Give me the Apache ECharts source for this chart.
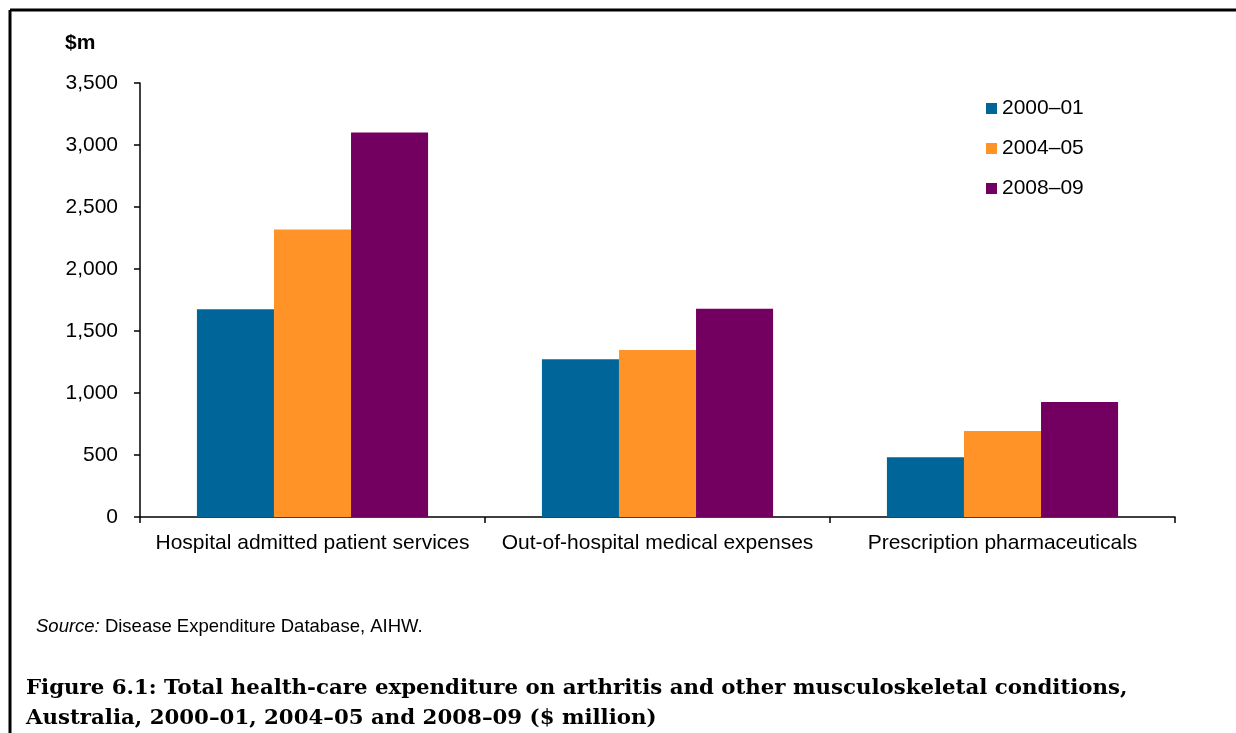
<!DOCTYPE html>
<html>
<head>
<meta charset="utf-8">
<script src="https://cdn.jsdelivr.net/npm/echarts@6/dist/echarts.min.js"></script>
<style>
html,body{margin:0;padding:0;background:#fff;}
#c{width:1236px;height:733px;}
</style>
</head>
<body>
<div id="c"></div>
<script>
const categories = ['Hospital admitted patient services', 'Out-of-hospital medical expenses', 'Prescription pharmaceuticals'];
const seriesNames = ['2000\u201301', '2004\u201305', '2008\u201309'];
const values2000 = [1675, 1272, 481];
const values2004 = [2318, 1347, 693];
const values2008 = [3100, 1680, 927];
const colors = ['#006699', '#FF9327', '#730060'];

const chart = echarts.init(document.getElementById('c'), null, {renderer: 'canvas'});
const font = '"Liberation Sans", Arial, sans-serif';
const allValues = [values2000, values2004, values2008];

chart.setOption({
  animation: false,
  backgroundColor: '#fff',
  grid: {left: 140, right: 61, top: 83, bottom: 216, containLabel: false},
  legend: {
    orient: 'vertical',
    left: 986,
    top: 98,
    padding: 0,
    icon: 'rect',
    itemWidth: 11,
    itemHeight: 11,
    itemGap: 19,
    textStyle: {fontFamily: font, fontSize: 21, color: '#000'},
    data: seriesNames
  },
  xAxis: {
    type: 'category',
    data: categories,
    boundaryGap: true,
    axisLine: {lineStyle: {color: '#000', width: 1.5}},
    axisTick: {show: true, interval: 0, length: 6, lineStyle: {color: '#000', width: 1.5}},
    axisLabel: {fontFamily: font, fontSize: 21, color: '#000', margin: 16, interval: 0}
  },
  yAxis: {
    type: 'value',
    min: 0,
    max: 3500,
    interval: 500,
    splitLine: {show: false},
    axisLine: {show: true, lineStyle: {color: '#000', width: 1.5}},
    axisTick: {show: true, length: 6, lineStyle: {color: '#000', width: 1.5}},
    axisLabel: {
      fontFamily: font, fontSize: 21, color: '#000', margin: 22,
      formatter: v => v.toLocaleString('en-US')
    }
  },
  series: seriesNames.map((n, i) => ({
    name: n,
    type: 'bar',
    data: allValues[i],
    itemStyle: {color: colors[i]},
    barGap: '0%',
    barCategoryGap: '33%'
  })),
  graphic: [
    {type: 'line', shape: {x1: 10, y1: 10, x2: 1236, y2: 10}, style: {stroke: '#000', lineWidth: 3}},
    {type: 'line', shape: {x1: 10, y1: 10, x2: 10, y2: 733}, style: {stroke: '#000', lineWidth: 3}},
    {type: 'text', left: 65, top: 33, style: {text: '$m', font: 'bold 21px "Liberation Sans", Arial, sans-serif', fill: '#000'}},
    {type: 'text', left: 36, top: 617, style: {
      text: '{i|Source:} Disease Expenditure Database, AIHW.',
      rich: {i: {fontStyle: 'italic', fontFamily: font, fontSize: 18.5, fill: '#000'}},
      font: '18.5px "Liberation Sans", Arial, sans-serif', fill: '#000'}},
    {type: 'text', left: 26, top: 673, style: {
      text: 'Figure 6.1: Total health-care expenditure on arthritis and other musculoskeletal conditions,\nAustralia, 2000\u201301, 2004\u201305 and 2008\u201309 ($ million)',
      font: 'bold 21.3px "DejaVu Serif", "Liberation Serif", serif', fill: '#000', lineHeight: 30}}
  ]
});
</script>
</body>
</html>
